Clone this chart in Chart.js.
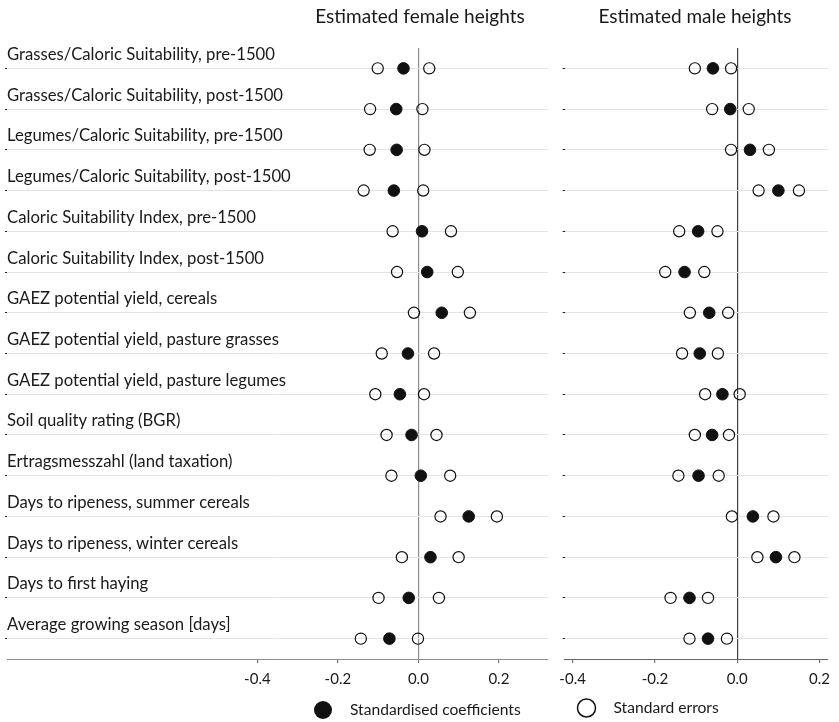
<!DOCTYPE html>
<html>
<head>
<meta charset="utf-8">
<script src="https://cdn.jsdelivr.net/npm/chart.js@4.4.1/dist/chart.umd.min.js"></script>
<style>
  html, body { margin: 0; padding: 0; background: #fff; }
  #wrap { position: relative; width: 839px; height: 722px; overflow: hidden; }
  #female { position: absolute; left: 0; top: 0; }
  #male { position: absolute; left: 552px; top: 0; }
</style>
</head>
<body>
<div id="wrap">
  <canvas id="female" width="560" height="722"></canvas>
  <canvas id="male" width="287" height="722"></canvas>
</div>
<script>
// Soil and agricultural suitability measures
const categories = [
  'Grasses/Caloric Suitability, pre-1500',
  'Grasses/Caloric Suitability, post-1500',
  'Legumes/Caloric Suitability, pre-1500',
  'Legumes/Caloric Suitability, post-1500',
  'Caloric Suitability Index, pre-1500',
  'Caloric Suitability Index, post-1500',
  'GAEZ potential yield, cereals',
  'GAEZ potential yield, pasture grasses',
  'GAEZ potential yield, pasture legumes',
  'Soil quality rating (BGR)',
  'Ertragsmesszahl (land taxation)',
  'Days to ripeness, summer cereals',
  'Days to ripeness, winter cereals',
  'Days to first haying',
  'Average growing season [days]'
];

// Female heights: standardised coefficients and the standard-error markers either side
const femaleCoef   = [-0.037, -0.055, -0.054, -0.061, 0.009, 0.022, 0.058, -0.026, -0.046, -0.017, 0.006, 0.125, 0.030, -0.024, -0.072];
const femaleSeLow  = [-0.101, -0.120, -0.121, -0.136, -0.064, -0.053, -0.011, -0.091, -0.107, -0.079, -0.067, 0.055, -0.041, -0.099, -0.143];
const femaleSeHigh = [0.027, 0.010, 0.015, 0.012, 0.081, 0.098, 0.128, 0.039, 0.014, 0.045, 0.079, 0.195, 0.100, 0.051, -0.001];

// Male heights
const maleCoef   = [-0.059, -0.017, 0.031, 0.100, -0.095, -0.128, -0.068, -0.091, -0.036, -0.061, -0.094, 0.038, 0.094, -0.116, -0.071];
const maleSeLow  = [-0.103, -0.061, -0.015, 0.052, -0.141, -0.175, -0.115, -0.134, -0.078, -0.103, -0.143, -0.013, 0.049, -0.162, -0.116];
const maleSeHigh = [-0.015, 0.028, 0.077, 0.150, -0.048, -0.080, -0.022, -0.047, 0.006, -0.020, -0.045, 0.088, 0.139, -0.071, -0.025];

const xTickValues = [-0.4, -0.2, 0.0, 0.2];

const FONT = 'Lato, "Open Sans", sans-serif';
const INK = '#1a1a1a';

// Draws panel title, row labels and legend entry for each panel
const panelText = {
  id: 'panelText',
  afterDraw(chart, args, o) {
    const ctx = chart.ctx;
    const y = chart.scales.y;
    const area = chart.chartArea;
    ctx.save();
    ctx.fillStyle = INK;
    ctx.font = '19px ' + FONT;
    ctx.textAlign = 'center';
    ctx.textBaseline = 'alphabetic';
    ctx.fillText(o.title, o.titleX, 23);

    if (o.rowLabels) {
      ctx.font = '16.7px ' + FONT;
      ctx.textAlign = 'left';
      categories.forEach((c, i) => {
        ctx.fillText(c, area.left, y.getPixelForValue(i + 1) - 8.5);
      });
    }

    // legend entry
    const L = o.legend;
    ctx.beginPath();
    ctx.arc(L.x, L.y, 9, 0, Math.PI * 2);
    if (L.filled) {
      ctx.fillStyle = '#111';
      ctx.fill();
    } else {
      ctx.lineWidth = 1.5;
      ctx.strokeStyle = '#111';
      ctx.stroke();
    }
    ctx.fillStyle = INK;
    ctx.font = '15.6px ' + FONT;
    ctx.textAlign = 'left';
    ctx.textBaseline = 'middle';
    ctx.fillText(L.text, L.x + 27, L.y);
    ctx.restore();
  }
};

function panel(canvasId, coef, lo, hi, cfg) {
  const coefPts = coef.map((v, i) => ({ x: v, y: i + 1 }));
  const sePts = lo.map((v, i) => ({ x: v, y: i + 1 })).concat(hi.map((v, i) => ({ x: v, y: i + 1 })));
  return new Chart(document.getElementById(canvasId), {
    type: 'scatter',
    data: {
      datasets: [
        {
          label: 'Standard errors',
          data: sePts,
          pointRadius: 5.6,
          pointBackgroundColor: 'rgba(0,0,0,0)',
          pointBorderColor: '#111',
          pointBorderWidth: 1.2
        },
        {
          label: 'Standardised coefficients',
          data: coefPts,
          pointRadius: 5.8,
          pointBackgroundColor: '#111',
          pointBorderColor: '#111',
          pointBorderWidth: 1
        }
      ]
    },
    options: {
      responsive: false,
      animation: false,
      events: [],
      layout: { padding: { left: cfg.padLeft, right: cfg.padRight, top: 48, bottom: 33 } },
      plugins: {
        legend: { display: false },
        tooltip: { enabled: false },
        panelText: { title: cfg.title, titleX: cfg.titleX, rowLabels: cfg.rowLabels, legend: cfg.legend }
      },
      scales: {
        x: {
          type: 'linear',
          min: cfg.min,
          max: cfg.max,
          afterBuildTicks: s => { s.ticks = xTickValues.map(v => ({ value: v })); },
          afterFit: s => { s.height = 30; },
          ticks: {
            font: { family: FONT, size: 15 },
            color: INK,
            padding: 7,
            maxRotation: 0,
            callback: v => Number(v).toFixed(1)
          },
          grid: {
            drawOnChartArea: true,
            color: c => (c.tick && Math.abs(c.tick.value) < 1e-9) ? cfg.zeroColor : 'rgba(0,0,0,0)',
            lineWidth: 1.2,
            tickColor: '#777',
            tickLength: 4
          },
          border: { color: cfg.axisColor, width: 1 }
        },
        y: {
          type: 'linear',
          reverse: true,
          min: 0.5,
          max: 15.5,
          afterBuildTicks: s => { s.ticks = categories.map((c, i) => ({ value: i + 1 })); },
          afterFit: s => { s.width = 2; },
          ticks: { display: false },
          grid: { color: '#e4e4e4', lineWidth: 1, tickColor: '#222', tickLength: 2 },
          border: { display: false }
        }
      }
    },
    plugins: [panelText]
  });
}

panel('female', femaleCoef, femaleSeLow, femaleSeHigh, {
  min: -1.022, max: 0.322,
  padLeft: 5, padRight: 12,
  zeroColor: '#8c8c8c', axisColor: '#8c8c8c',
  title: 'Estimated female heights', titleX: 420,
  rowLabels: true,
  legend: { x: 323, y: 710, filled: true, text: 'Standardised coefficients' }
});

panel('male', maleCoef, maleSeLow, maleSeHigh, {
  min: -0.4194, max: 0.2206,
  padLeft: 10, padRight: 11,
  zeroColor: '#404040', axisColor: '#666666',
  title: 'Estimated male heights', titleX: 143,
  rowLabels: false,
  legend: { x: 34.5, y: 708, filled: false, text: 'Standard errors' }
});
</script>
</body>
</html>
